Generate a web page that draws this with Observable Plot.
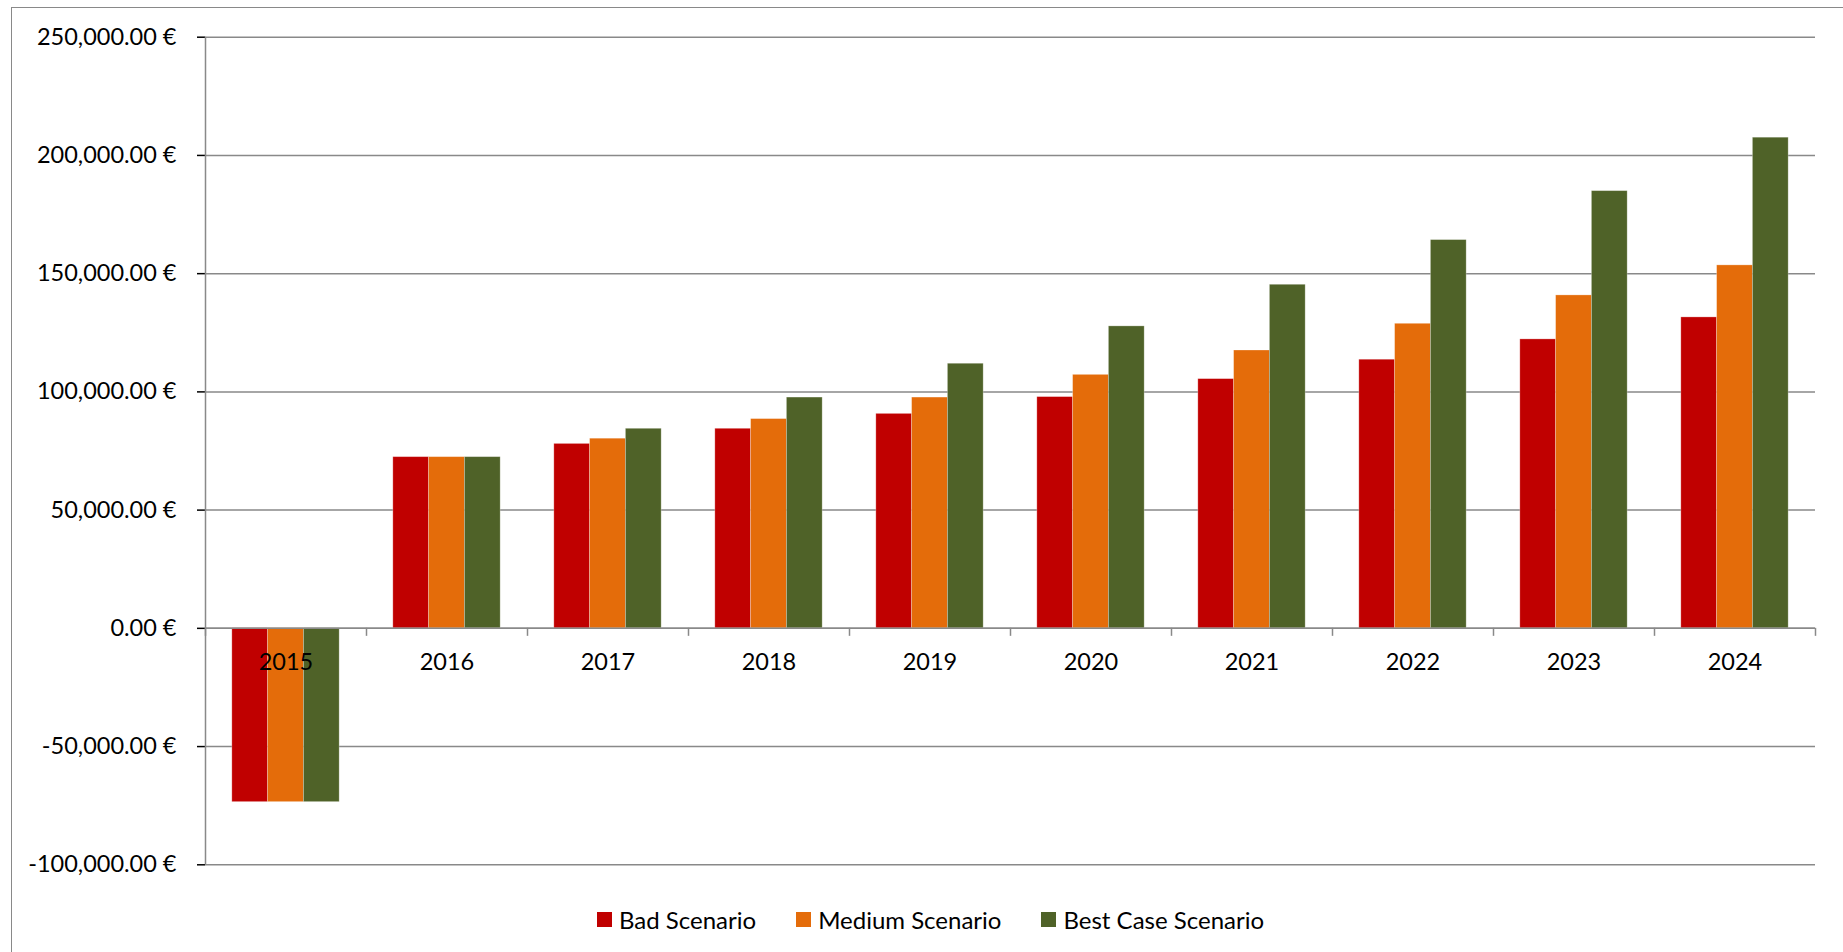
<!DOCTYPE html>
<html>
<head>
<meta charset="utf-8">
<script src="https://cdn.jsdelivr.net/npm/d3@7"></script>
<script src="https://cdn.jsdelivr.net/npm/@observablehq/plot@0.6"></script>
<style>
  html, body { margin: 0; padding: 0; background: #fff; width: 1843px; height: 952px; overflow: hidden; }
  #frame { position: absolute; left: 11px; top: 7px; width: 1900px; height: 1000px;
           border-left: 1.5px solid #898989; border-top: 1.5px solid #898989; }
  #chart { position: absolute; left: 0; top: 0; }
  #legend { position: absolute; left: 597px; top: 903px; }
  #chart svg [aria-label="y-axis tick"] { stroke: #898989; stroke-width: 1.5px; }
  .lg { font-family: Lato, sans-serif; font-size: 24px; color: #000; }
  .lg-swatch { margin-right: 40px !important; }
  .lg-swatch > svg { margin-right: 7px !important; }
</style>
</head>
<body>
<div id="frame"></div>
<div id="chart"></div>
<div id="legend"></div>
<script>
const years = ["2015","2016","2017","2018","2019","2020","2021","2022","2023","2024"];
const scenarios = ["Bad Scenario", "Medium Scenario", "Best Case Scenario"];
const badValues    = [-73500, 72400, 78000, 84400, 90700, 97800, 105400, 113600, 122200, 131500];
const mediumValues = [-73500, 72400, 80200, 88500, 97600, 107200, 117500, 128800, 140800, 153500];
const bestValues   = [-73500, 72400, 84400, 97600, 111900, 127700, 145300, 164200, 184900, 207500];
const colors = ["#C00000", "#E46C0A", "#4F6228"];
const yTicks = [-100000, -50000, 0, 50000, 100000, 150000, 200000, 250000];

const seriesValues = [badValues, mediumValues, bestValues];
const rows = [];
years.forEach((year, i) => {
  scenarios.forEach((scenario, j) => {
    rows.push({year, scenario, index: j, value: seriesValues[j][i]});
  });
});

// Excel-style clustered column: gap width 150% of one bar
const gapWidth = 1.5;
const slots = scenarios.length + gapWidth;
const xStart = d => (gapWidth / 2 + d.index) / slots;
const xEnd = d => (gapWidth / 2 + d.index + 1) / slots;

const fmt = d3.formatLocale({decimal: ".", thousands: ",", grouping: [3], currency: ["", ""], minus: "-"}).format(",.2f");

const gridColor = "#898989";

const boundaries = years.map(y => ({year: y, pos: 0})).concat([{year: years[years.length - 1], pos: 1}]);

const chart = Plot.plot({
  width: 1843,
  height: 880,
  marginLeft: 201.7,
  marginRight: 24,
  marginTop: 36.7,
  marginBottom: 15.7,
  style: {fontFamily: "Lato, sans-serif", fontSize: "23.5px", color: "#000", background: "transparent"},
  fx: {domain: years, padding: 0, axis: null},
  x: {domain: [0, 1], axis: null},
  y: {domain: [-100000, 250000], ticks: yTicks, tickFormat: d => fmt(d) + " €", tickSize: 8, tickPadding: 21, label: null},
  color: {domain: scenarios, range: colors},
  marks: [
    Plot.gridY(yTicks, {stroke: gridColor, strokeOpacity: 1, strokeWidth: 1.5}),
    Plot.rect(rows, {fx: "year", x1: xStart, x2: xEnd, y1: 0, y2: "value", fill: "scenario",
                     stroke: "white", strokeOpacity: 0.35, strokeWidth: 0.8}),
    Plot.ruleY([0], {stroke: gridColor, strokeWidth: 1.5}),
    Plot.ruleX(boundaries, {fx: "year", x: "pos", y1: 0, y2: 0, insetBottom: -8, stroke: gridColor, strokeWidth: 1.5}),
    Plot.ruleX([years[0]], {fx: d => d, x: 0, stroke: gridColor, strokeWidth: 1.5}),
    Plot.text(years, {fx: d => d, x: 0.5, y: 0, text: d => d, dy: 34, fill: "#000"})
  ]
});
document.getElementById("chart").appendChild(chart);

const legend = Plot.legend({
  color: {domain: scenarios, range: colors},
  legend: "swatches",
  swatchSize: 15,
  className: "lg",
  style: {fontFamily: "Lato, sans-serif", fontSize: "24px", color: "#000"}
});
document.getElementById("legend").appendChild(legend);
</script>
</body>
</html>
